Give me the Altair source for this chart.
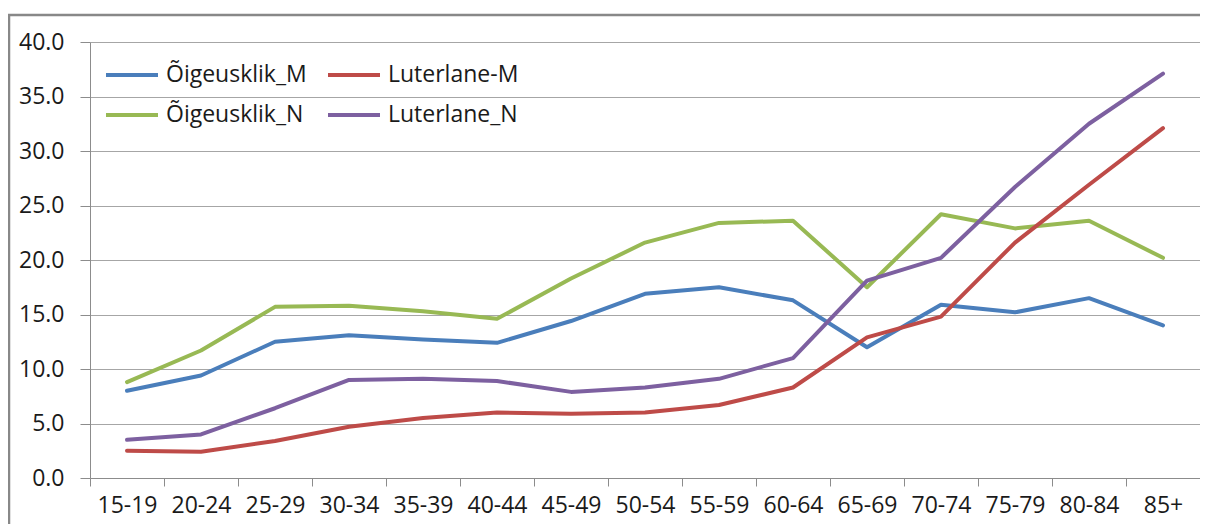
import altair as alt
import pandas as pd

categories = ["15-19", "20-24", "25-29", "30-34", "35-39", "40-44", "45-49",
              "50-54", "55-59", "60-64", "65-69", "70-74", "75-79", "80-84", "85+"]
# legend fills column by column: this order puts Õigeusklik_M | Luterlane-M on row 1
series_names = ["Õigeusklik_M", "Õigeusklik_N", "Luterlane-M", "Luterlane_N"]
oigeusklik_M = [8.0, 9.4, 12.5, 13.1, 12.7, 12.4, 14.4, 16.9, 17.5, 16.3, 12.0, 15.9, 15.2, 16.5, 14.0]
oigeusklik_N = [8.8, 11.7, 15.7, 15.8, 15.3, 14.6, 18.3, 21.6, 23.4, 23.6, 17.5, 24.2, 22.9, 23.6, 20.2]
luterlane_M = [2.5, 2.4, 3.4, 4.7, 5.5, 6.0, 5.9, 6.0, 6.7, 8.3, 12.9, 14.8, 21.6, 26.9, 32.1]
luterlane_N = [3.5, 4.0, 6.4, 9.0, 9.1, 8.9, 7.9, 8.3, 9.1, 11.0, 18.1, 20.2, 26.7, 32.5, 37.1]
y_ticks = [0, 5, 10, 15, 20, 25, 30, 35, 40]
colors = ["#4a7ebb", "#98b954", "#be4b48", "#7d60a0"]

rows = []
for name, vals in zip(series_names, [oigeusklik_M, oigeusklik_N, luterlane_M, luterlane_N]):
    for c, v in zip(categories, vals):
        rows.append({"age": c, "series": name, "value": v})
df = pd.DataFrame(rows)

FONT = "Open Sans"
FS = 23

lines = alt.Chart(df).mark_line(strokeWidth=4, strokeCap="round", strokeJoin="round").encode(
    x=alt.X("age:N", sort=categories, bandPosition=0.5,
            scale=alt.Scale(type="band", paddingInner=0, paddingOuter=0),
            axis=alt.Axis(title=None, labelAngle=0, tickBand="extent", tickSize=8,
                          labelPadding=8, labelFont=FONT, labelFontSize=FS,
                          labelColor="#1a1a1a", domainColor="#8c8c8c", tickColor="#8c8c8c",
                          grid=False)),
    y=alt.Y("value:Q", scale=alt.Scale(domain=[0, 40], nice=False),
            axis=alt.Axis(title=None, values=y_ticks, format=".1f", tickSize=10,
                          labelPadding=16, labelFont=FONT, labelFontSize=FS,
                          labelColor="#1a1a1a", domainColor="#8c8c8c", tickColor="#8c8c8c",
                          gridColor="#a6a6a6", gridWidth=1.2)),
    color=alt.Color("series:N", sort=series_names,
                    scale=alt.Scale(domain=series_names, range=colors),
                    legend=alt.Legend(title=None, orient="none", legendX=14, legendY=5,
                                      columns=2, symbolType="stroke", symbolSize=2704,
                                      symbolStrokeWidth=4, labelFont=FONT, labelFontSize=FS,
                                      labelColor="#1a1a1a", labelOffset=6, columnPadding=13,
                                      rowPadding=-12, padding=0)),
)

frame_src = alt.Chart(pd.DataFrame({"a": [0]}))
frame_left = frame_src.mark_rule(stroke="#888888", strokeWidth=2.5).encode(
    x=alt.value(-81), y=alt.value(-27), y2=alt.value(700))
frame_top = frame_src.mark_rule(stroke="#888888", strokeWidth=2.5).encode(
    x=alt.value(-82), x2=alt.value(1400), y=alt.value(-27))

chart = alt.layer(frame_left, frame_top, lines).properties(
    width=1110, height=436, autosize="none",
    padding={"left": 82, "top": 34, "right": 0, "bottom": 46},
).configure_view(stroke=None)

chart.save("out.html", embed_options={"renderer": "svg", "actions": False})
